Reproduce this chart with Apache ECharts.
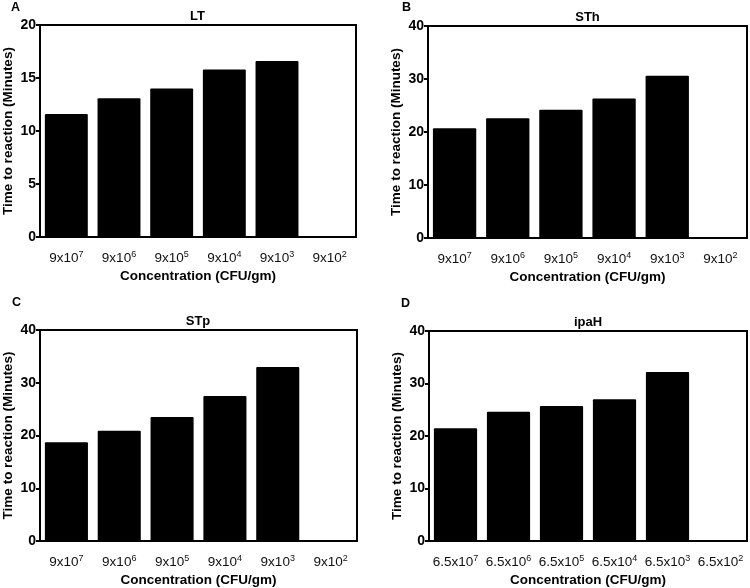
<!DOCTYPE html>
<html><head><meta charset="utf-8">
<script src="https://cdn.jsdelivr.net/npm/echarts@6/dist/echarts.min.js"></script>
<style>html,body{margin:0;padding:0;background:#fff}#c{width:750px;height:588px}</style>
</head><body><div id="c"></div>
<script>
// Data
const catsNine = ['9x10^7','9x10^6','9x10^5','9x10^4','9x10^3','9x10^2'];
const catsSix = ['6.5x10^7','6.5x10^6','6.5x10^5','6.5x10^4','6.5x10^3','6.5x10^2'];
const valuesLT  = [11.6, 13.1, 14.0, 15.8, 16.6, null];
const valuesSTh = [20.7, 22.6, 24.2, 26.3, 30.6, null];
const valuesSTp = [18.7, 20.9, 23.5, 27.5, 33.0, null];
const valuesIpaH = [21.5, 24.6, 25.7, 27.0, 32.2, null];
const panelTitles = ['LT', 'STh', 'STp', 'ipaH'];
const panelLetters = ['A', 'B', 'C', 'D'];
const yMax = [20, 40, 40, 40];
const yStep = [5, 10, 10, 10];

const FONT = 'Liberation Sans, Arial, sans-serif';
const grids = [
  {left: 39, top: 25, width: 317, height: 212},
  {left: 428, top: 26, width: 319, height: 212},
  {left: 39, top: 330, width: 318, height: 212},
  {left: 429, top: 331, width: 318, height: 211}
];
const panels = [
  {cats: catsNine, vals: valuesLT},
  {cats: catsNine, vals: valuesSTh},
  {cats: catsNine, vals: valuesSTp},
  {cats: catsSix, vals: valuesIpaH}
];
const letterPos = [[11, 1], [402, 1], [12, 296], [401, 297]];

const option = {
  animation: false,
  backgroundColor: '#fff',
  title: [],
  grid: grids.map(g => Object.assign({show: true, borderColor: '#000', borderWidth: 2, backgroundColor: 'transparent'}, g)),
  xAxis: [], yAxis: [], series: []
};

panels.forEach((p, i) => {
  const g = grids[i];
  option.title.push({
    text: panelTitles[i], left: g.left + g.width / 2, top: g.top - 15, textAlign: 'center', padding: 0,
    textStyle: {fontFamily: FONT, fontSize: 13, fontWeight: 'bold', color: '#000'}
  });
  option.title.push({
    text: panelLetters[i], left: letterPos[i][0], top: letterPos[i][1], padding: 0,
    textStyle: {fontFamily: FONT, fontSize: 12.5, fontWeight: 'bold', color: '#000'}
  });
  option.xAxis.push({
    type: 'category', gridIndex: i, data: p.cats,
    axisLine: {lineStyle: {color: '#000', width: 2}},
    axisTick: {show: false},
    axisLabel: {
      fontFamily: FONT, fontSize: 13.5, color: '#111', margin: 13, interval: 0,
      formatter: v => { const s = v.split('^'); return s[0] + '{sup|' + s[1] + '}'; },
      rich: {sup: {fontFamily: FONT, fontSize: 9, color: '#111', padding: [0, 0, 7, 0]}}
    },
    name: 'Concentration (CFU/gm)', nameLocation: 'middle', nameGap: 32,
    nameTextStyle: {fontFamily: FONT, fontSize: 13.5, fontWeight: 'bold', color: '#000'}
  });
  option.yAxis.push({
    type: 'value', gridIndex: i, min: 0, max: yMax[i], interval: yStep[i],
    axisLine: {show: true, lineStyle: {color: '#000', width: 2}},
    axisTick: {show: true, length: 4, lineStyle: {color: '#000', width: 2}},
    splitLine: {show: false},
    axisLabel: {fontFamily: FONT, fontSize: 14, fontWeight: 'bold', color: '#000', margin: 4},
    name: 'Time to reaction (Minutes)', nameLocation: 'middle', nameGap: 25,
    nameTextStyle: {fontFamily: FONT, fontSize: 13.5, fontWeight: 'bold', color: '#000'}
  });
  option.series.push({
    type: 'bar', xAxisIndex: i, yAxisIndex: i, data: p.vals,
    barCategoryGap: '18.5%',
    itemStyle: {color: '#000', borderRadius: 1}
  });
});

const chart = echarts.init(document.getElementById('c'), null, {renderer: 'canvas'});
chart.setOption(option);
</script></body></html>
